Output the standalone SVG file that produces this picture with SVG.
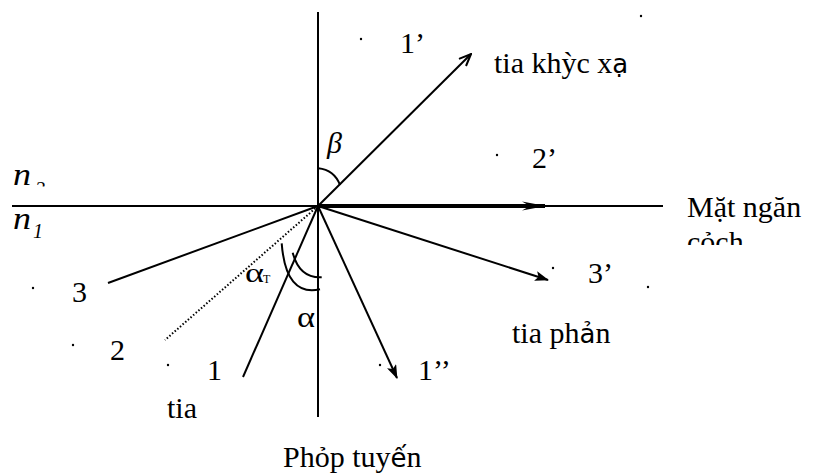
<svg xmlns="http://www.w3.org/2000/svg" width="815" height="476" viewBox="0 0 815 476">
<style>
text{font-family:"Liberation Serif","Times New Roman",serif;font-size:30px;fill:#000}
.it{font-style:italic}
.sans{font-family:"DejaVu Sans",sans-serif;font-size:26px}
.sub{font-size:20px}
.ln{stroke:#000;stroke-width:2;fill:none}
.dot{fill:#000}
</style>
<defs>
<marker id="fill" viewBox="0 0 14 10" refX="13" refY="5" markerWidth="14" markerHeight="10" markerUnits="userSpaceOnUse" orient="auto">
<path d="M0,0 L14,5 L0,10 L3,5 Z" fill="#000"/>
</marker>
<marker id="open" viewBox="0 0 14 12" refX="13" refY="6" markerWidth="14" markerHeight="12" markerUnits="userSpaceOnUse" orient="auto">
<path d="M1,1 L13,6 L1,11" fill="none" stroke="#000" stroke-width="2"/>
</marker>
<marker id="thin" viewBox="0 0 24 10" refX="23" refY="5" markerWidth="24" markerHeight="10" markerUnits="userSpaceOnUse" orient="auto">
<path d="M0,0.5 L24,5 L0,9.5 L8,5 Z" fill="#000"/>
</marker>
<clipPath id="clipN2"><rect x="0" y="160" width="60" height="26.5"/></clipPath>
<clipPath id="clipCach"><rect x="680" y="220" width="135" height="25"/></clipPath>
</defs>

<g id="connectors">
<line id="normal" class="ln" x1="318" y1="12" x2="318" y2="417"/>
<line id="interface" class="ln" x1="12" y1="206" x2="663" y2="206"/>
<line id="ray-grazing" x1="318" y1="206" x2="545" y2="206" stroke="#000" stroke-width="4" marker-end="url(#thin)"/>
<line id="ray-1" class="ln" x1="318" y1="206" x2="243" y2="377"/>
<line id="ray-2" x1="318" y1="206" x2="165" y2="340" stroke="#000" stroke-width="2" stroke-dasharray="1.5 2"/>
<line id="ray-3" class="ln" x1="318" y1="206" x2="108" y2="283"/>
<line id="ray-1p" class="ln" x1="318" y1="206" x2="471" y2="54" marker-end="url(#open)"/>
<line id="ray-3p" class="ln" x1="318" y1="206" x2="548" y2="280" marker-end="url(#fill)"/>
<line id="ray-1pp" class="ln" x1="318" y1="206" x2="397" y2="378" marker-end="url(#fill)"/>
<path id="arc-beta" class="ln" d="M318.3,168.3 Q334.2,170 340,185"/>
<path id="arc-alpha" class="ln" d="M292.7,252.7 Q299.4,278.4 321.7,277.3"/>
<path id="arc-alphaT" class="ln" d="M281.7,243.3 Q285.8,297.1 320,289.3"/>
</g>

<g id="dots">
<circle class="dot" cx="361" cy="39" r="1.2"/>
<circle class="dot" cx="641" cy="16" r="1.2"/>
<circle class="dot" cx="497" cy="155" r="1.2"/>
<circle class="dot" cx="553" cy="268" r="1.2"/>
<circle class="dot" cx="648" cy="287" r="1.2"/>
<circle class="dot" cx="380" cy="365" r="1.2"/>
<circle class="dot" cx="33" cy="288" r="1.2"/>
<circle class="dot" cx="73" cy="345" r="1.2"/>
<circle class="dot" cx="168" cy="365" r="1.2"/>
</g>

<g id="label-n2"><text class="it" x="13" y="185" style="font-size:31px" textLength="18" lengthAdjust="spacingAndGlyphs">n</text><text class="it sub" x="35" y="195.5" clip-path="url(#clipN2)">2</text></g>
<g id="label-n1"><text class="it" x="13" y="229" style="font-size:31px" textLength="18" lengthAdjust="spacingAndGlyphs">n</text><text class="it sub" x="33" y="238">1</text></g>
<g id="label-1p"><text x="400" y="53">1’</text></g>
<g id="label-refracted"><text x="494" y="73">tia khỳc x<tspan class="sans">ạ</tspan></text></g>
<g id="label-beta"><text class="it" x="327" y="153" style="font-size:30px">β</text></g>
<g id="label-2p"><text x="532" y="168">2’</text></g>
<g id="label-interface"><text x="687" y="217">Mặt ngăn</text><text x="687" y="252" clip-path="url(#clipCach)">cỏch</text></g>
<g id="label-3p"><text x="588" y="283">3’</text></g>
<g id="label-reflected"><text x="512" y="343">tia ph<tspan class="sans">ả</tspan>n</text></g>
<g id="label-1pp"><text x="418" y="380">1’’</text></g>
<g id="label-normal"><text x="283" y="467">Phỏp tuy<tspan class="sans">ế</tspan>n</text></g>
<g id="label-3"><text x="72" y="302">3</text></g>
<g id="label-2"><text x="110" y="360">2</text></g>
<g id="label-1"><text x="207" y="380">1</text></g>
<g id="label-incident"><text x="167" y="418">tia</text></g>
<g id="label-alphaT"><text x="245" y="282" style="font-size:27px" textLength="19" lengthAdjust="spacingAndGlyphs">α</text><text x="263" y="283" style="font-size:12px">T</text></g>
<g id="label-alpha"><text x="297" y="327" style="font-size:30px" textLength="18" lengthAdjust="spacingAndGlyphs">α</text></g>
</svg>
